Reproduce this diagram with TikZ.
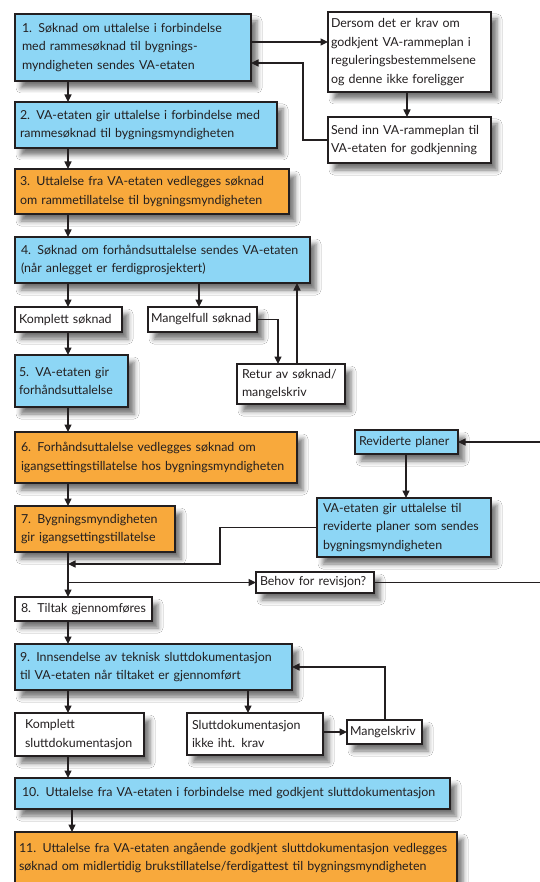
\documentclass[tikz,border=0pt]{standalone}
\usepackage{fontspec}
\setmainfont{Lato}
\usetikzlibrary{shadows.blur,arrows.meta,calc}
\definecolor{skyfill}{HTML}{8DD6F5}
\definecolor{orfill}{HTML}{F8A93C}
\definecolor{inkc}{HTML}{231F20}
\tikzset{
  base/.style={draw=inkc, line width=1.4pt, outer sep=0pt, align=left, text=inkc,
    font=\fontsize{12.4}{18.5}\selectfont,
    blur shadow={shadow xshift=6pt, shadow yshift=-7pt, shadow blur radius=5pt, shadow opacity=55}},
  bluebox/.style={base, fill=skyfill},
  orbox/.style={base, fill=orfill},
  whbox/.style={base, fill=white},
  arr/.style={line width=1.1pt, draw=inkc, -{Triangle[length=7.5pt,width=7pt]}},
}
\newcommand\mybox[8]{%
  \pgfmathsetmacro\bw{#6-#4}%
  \pgfmathsetmacro\bh{#7-#5}%
  \pgfmathsetmacro\tw{#6-#4-2*#3}%
  \node[#2, inner xsep=#3pt, inner ysep=0pt, minimum width=\bw pt, minimum height=\bh pt,
        text width=\tw pt, anchor=north west] (#1) at (#4,#5) {#8};}
\begin{document}
\begin{tikzpicture}[x=1pt,y=-1pt]
\useasboundingbox[fill=white] (0,0) rectangle (539,882);
% boxes
\mybox{b1}{bluebox}{7}{15}{14}{251}{81}{1. Søknad om uttalelse i forbindelse\\med rammesøknad til bygnings-\\myndigheten sendes VA-etaten}
\mybox{D}{whbox}{3}{328}{12}{491}{92}{Dersom det er krav om\\godkjent VA-rammeplan i\\reguleringsbestemmelsene\\og denne ikke foreligger}
\mybox{S}{whbox}{3}{328}{117}{491}{163}{Send inn VA-rammeplan til\\VA-etaten for godkjenning}
\mybox{b2}{bluebox}{5}{15}{102}{277}{148}{2. VA-etaten gir uttalelse i forbindelse med\\rammesøknad til bygningsmyndigheten}
\mybox{b3}{orbox}{5}{15}{169}{289}{214}{3. Uttalelse fra VA-etaten vedlegges søknad\\om rammetillatelse til bygningsmyndigheten}
\mybox{b4}{bluebox}{6}{15}{237}{310}{283}{4. Søknad om forhåndsuttalelse sendes VA-etaten\\(når anlegget er ferdigprosjektert)}
\mybox{K1}{whbox}{4}{15}{307}{122}{332}{Komplett søknad}
\mybox{M1}{whbox}{3}{148}{307}{257}{332}{Mangelfull søknad}
\mybox{R}{whbox}{5}{237}{364}{345}{404}{Retur av søknad/\\mangelskriv}
\mybox{b5}{bluebox}{4}{15}{355}{128}{407}{5. VA-etaten gir\\forhåndsuttalelse}
\mybox{b6}{orbox}{6}{15}{432}{297}{483}{6. Forhåndsuttalelse vedlegges søknad om\\igangsettingstillatelse hos bygningsmyndigheten}
\mybox{b7}{orbox}{6}{15}{506}{175}{552}{7. Bygningsmyndigheten\\gir igangsettingstillatelse}
\mybox{Rv}{bluebox}{4}{355}{430}{458}{454}{Reviderte planer}
\mybox{V}{bluebox}{6}{317}{498}{491}{557}{VA-etaten gir uttalelse til\\reviderte planer som sendes\\bygningsmyndigheten}
\mybox{B}{whbox}{4}{256}{572}{374}{593}{Behov for revisjon?}
\mybox{b8}{whbox}{6}{15}{597}{152}{621}{8. Tiltak gjennomføres}
\mybox{b9}{bluebox}{5}{15}{644}{292}{690}{9. Innsendelse av teknisk sluttdokumentasjon\\til VA-etaten når tiltaket er gjennomført}
\mybox{K2}{whbox}{10}{15}{713}{144}{756}{Komplett\\sluttdokumentasjon}
\mybox{SD}{whbox}{5}{187}{713}{323}{755}{Sluttdokumentasjon\\ikke iht. krav}
\mybox{MS}{whbox}{3}{347}{720}{422}{744}{Mangelskriv}
\mybox{b10}{bluebox}{7}{15}{778}{450}{809}{10. Uttalelse fra VA-etaten i forbindelse med godkjent sluttdokumentasjon}
\mybox{b11}{orbox}{4}{15}{832}{457}{884}{11. Uttalelse fra VA-etaten angående godkjent sluttdokumentasjon vedlegges\\søknad om midlertidig brukstillatelse/ferdigattest til bygningsmyndigheten}
% helper coordinates
\coordinate (xa) at (68,0);
\coordinate (xm) at (199,0);
\coordinate (xr1) at (278,0);
\coordinate (xr2) at (297,0);
\coordinate (ka) at (303,63);
\coordinate (y42) at (0,42);
\coordinate (xd) at (407,0);
\coordinate (xv) at (406,0);
\coordinate (kv) at (220,564);
\coordinate (ke) at (541,0);
\coordinate (xs) at (248,0);
\coordinate (xe) at (72,0);
\coordinate (xms) at (385,0);
% connectors
\draw[arr] (b1.south -| xa) -- (b2.north -| xa);
\draw[arr] (b2.south -| xa) -- (b3.north -| xa);
\draw[arr] (b3.south -| xa) -- (b4.north -| xa);
\draw[arr] (b1.east |- y42) -- (D.west |- y42);
\draw[arr] (D.south -| xd) -- (S.north -| xd);
\draw[arr] (S.west) -| (ka) -- (b1.east |- ka);
\draw[arr] (b4.south -| xa) -- (K1.north -| xa);
\draw[arr] (b4.south -| xm) -- (M1.north -| xm);
\draw[arr] (M1.east) -| (xr1 |- R.north);
\draw[arr] (R.north -| xr2) -- (b4.south -| xr2);
\draw[arr] (K1.south -| xa) -- (b5.north -| xa);
\draw[arr] (b5.south -| xa) -- (b6.north -| xa);
\draw[arr] (b6.south -| xa) -- (b7.north -| xa);
\draw[arr] (b7.south -| xa) -- (b8.north -| xa);
\draw[arr] (B.west -| xa) -- (B.west);
\draw[arr] (V.west) -| (kv) -- (kv -| xa);
\draw[arr] (B.east) -- (B.east -| ke) -- (ke |- Rv.east) -- (Rv.east);
\draw[arr] (Rv.south -| xv) -- (V.north -| xv);
\draw[arr] (b8.south -| xa) -- (b9.north -| xa);
\draw[arr] (b9.south -| xa) -- (K2.north -| xa);
\draw[arr] (b9.south -| xs) -- (SD.north -| xs);
\draw[arr] (SD.east |- MS.west) -- (MS.west);
\draw[arr] (MS.north -| xms) |- (b9.east);
\draw[arr] (K2.south -| xa) -- (b10.north -| xa);
\draw[arr] (b10.south -| xe) -- (b11.north -| xe);
\end{tikzpicture}
\end{document}
